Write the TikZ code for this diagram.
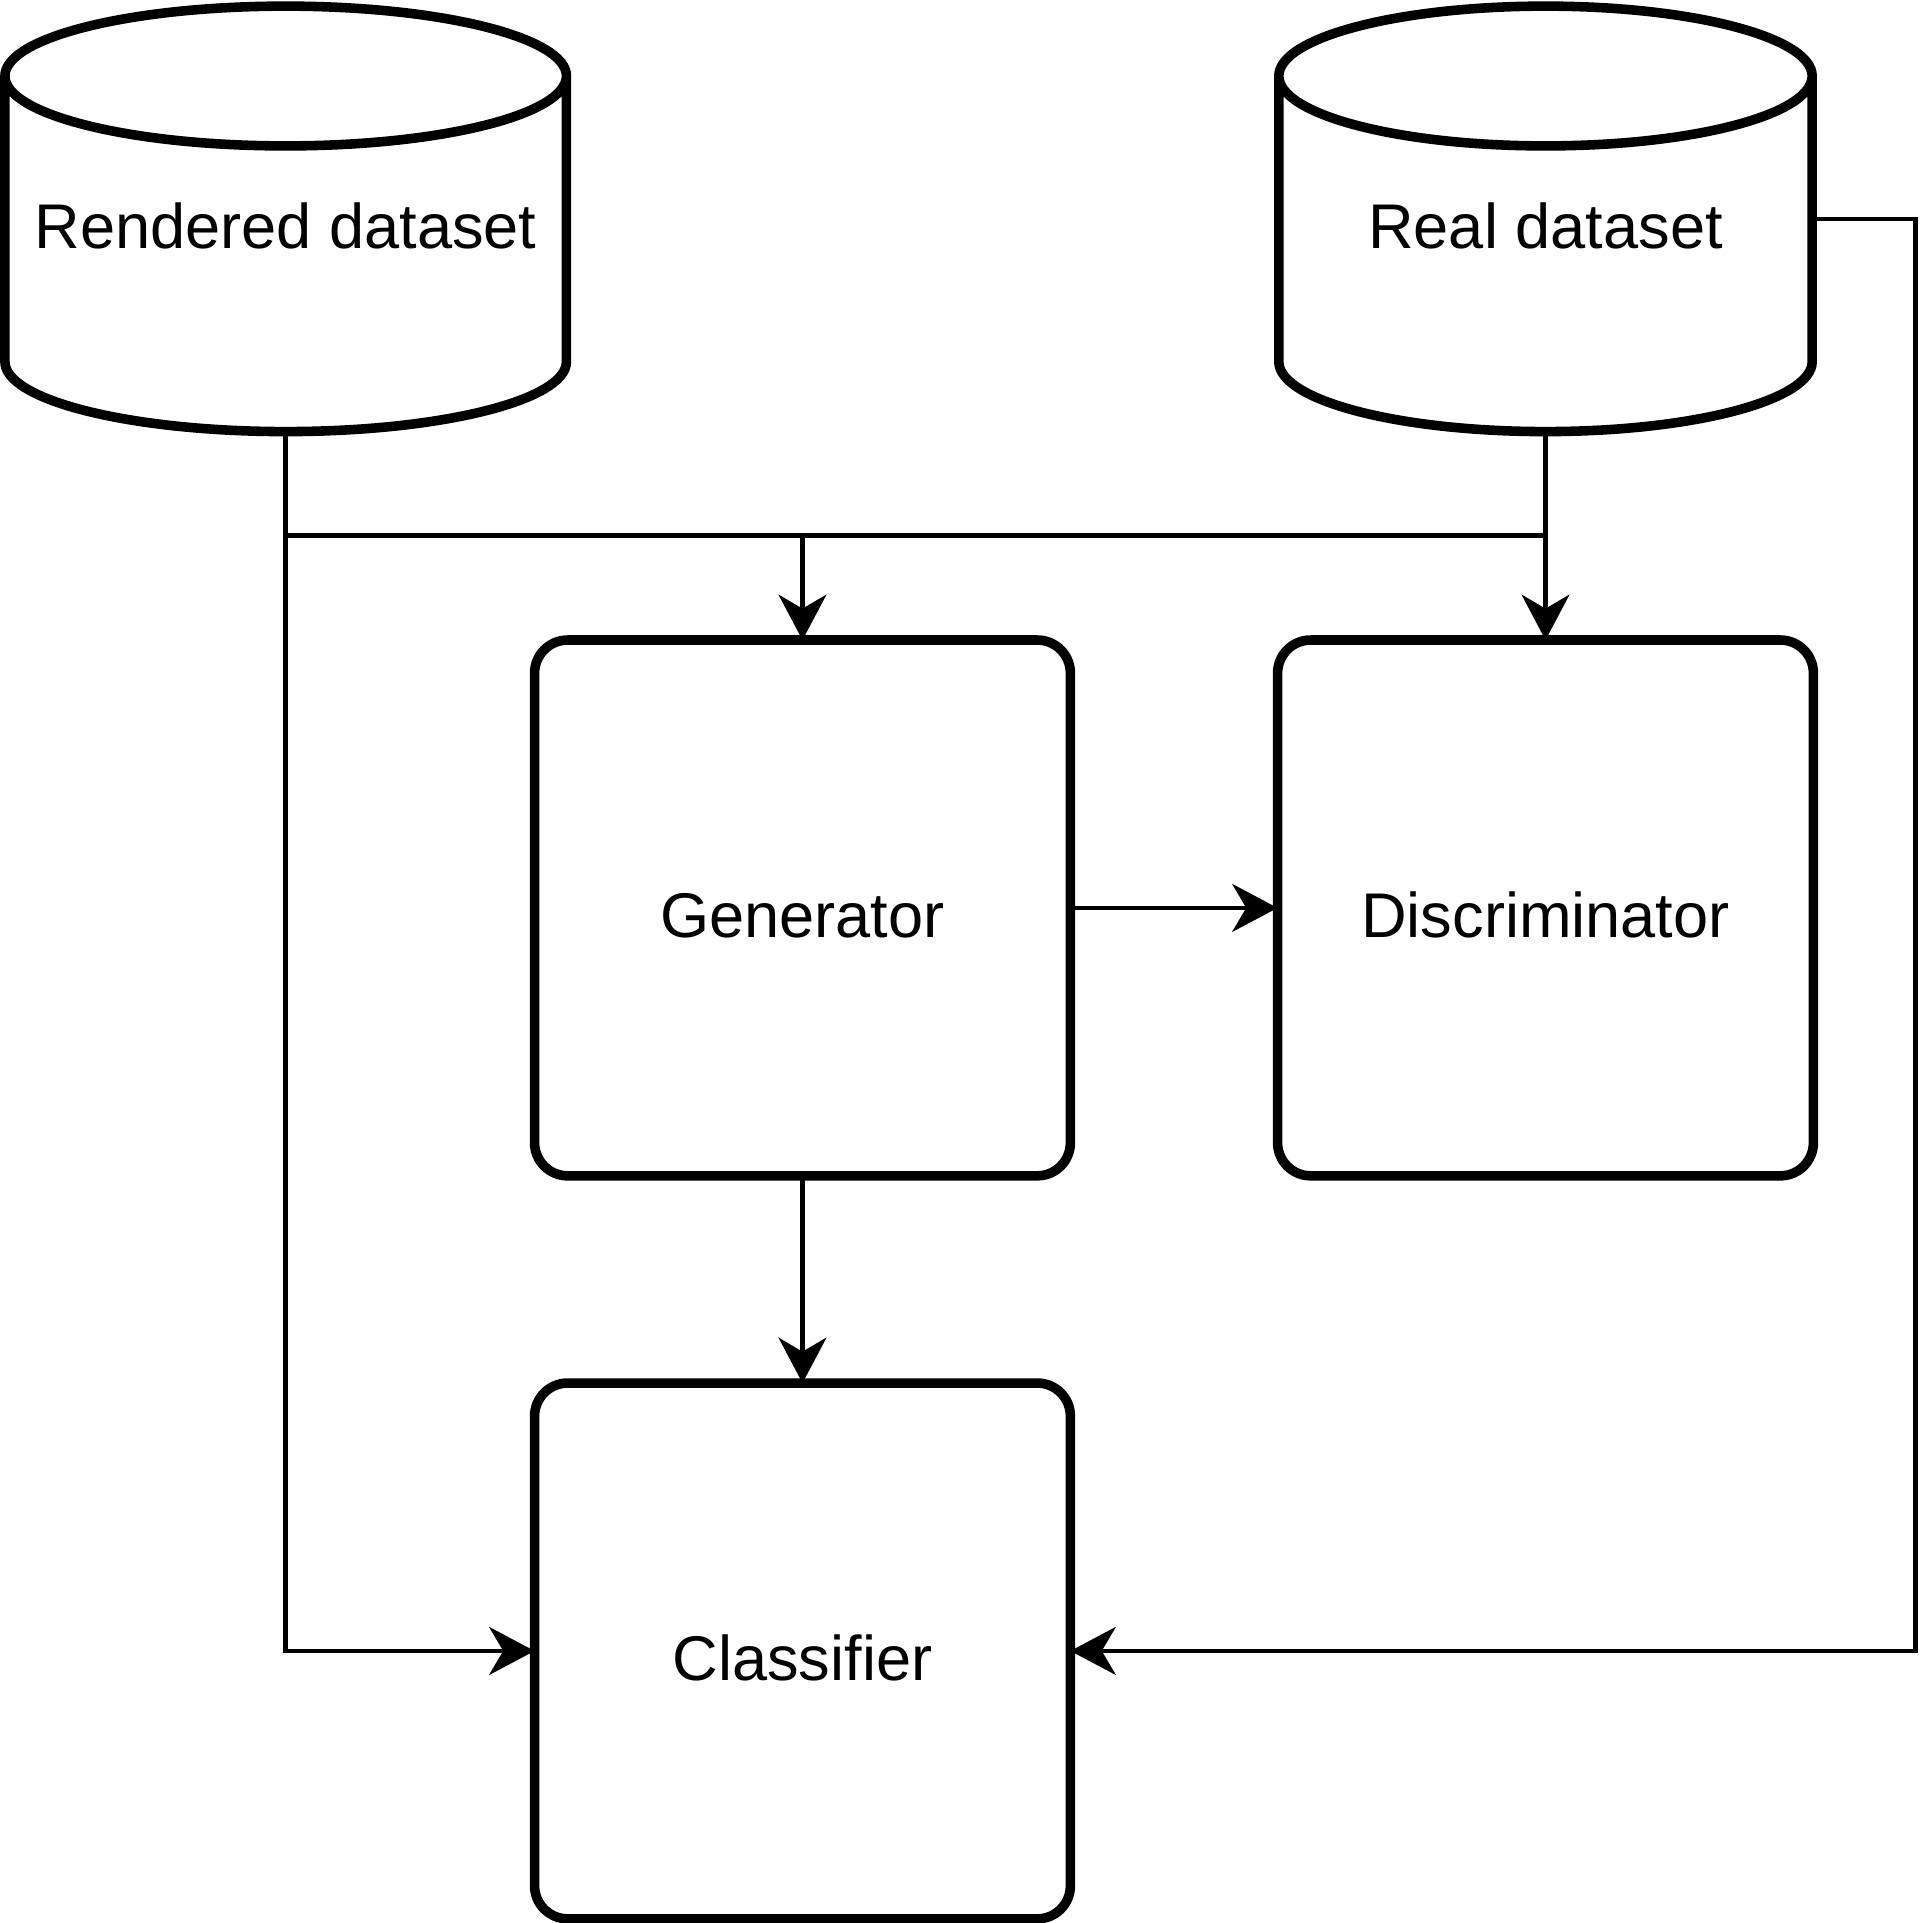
\documentclass[tikz,border=0pt]{standalone}
\usepackage{fontspec}
\setmainfont{Liberation Sans}
\usepackage{tikz}
\usetikzlibrary{arrows.meta}
\tikzstyle{block}=[rectangle, rounded corners=13.5pt, draw=black, line width=3.9pt, minimum width=218.5pt, minimum height=218.5pt, inner sep=0pt, outer sep=0pt, text height=24pt, text depth=0pt]
\tikzstyle{db}=[rectangle, minimum height=173.5pt, inner sep=0pt, outer sep=0pt, text height=24pt, text depth=0pt]
\tikzstyle{dbline}=[draw=black, line width=3.9pt, line join=round]
\tikzstyle{wire}=[draw=black, line width=1.9pt]
\tikzstyle{link}=[wire, -{Stealth[length=18.5pt, width=19.5pt, inset=5.7pt]}]

\begin{document}
\begin{tikzpicture}[x=0.5pt, y=-0.5pt, font=\fontsize{25.75}{30}\selectfont]
  \useasboundingbox (0,0) rectangle (1566,1568.4);
  \node[db, minimum width=229pt] (rend) at (233,178.5) {Rendered dataset};
  \node[db, minimum width=217.5pt] (real) at (1260.5,178.5) {Real dataset};
  \foreach \n/\r in {rend/114.5pt, real/108.75pt}
    \draw[dbline] ([yshift=-28.5pt]\n.north west) -- ([yshift=28.5pt]\n.south west)
      arc[start angle=180, end angle=360, x radius=\r, y radius=28.5pt]
      -- ([yshift=-28.5pt]\n.north east)
      arc[start angle=0, end angle=180, x radius=\r, y radius=28.5pt]
      arc[start angle=180, end angle=360, x radius=\r, y radius=28.5pt];
  \node[block] (gen) at (654.5,740.5) {Generator};
  \node[block] (disc) at (1260.5,740.5) {Discriminator};
  \node[block] (clf) at (654.5,1346.5) {Classifier};
  \coordinate (split) at (654.5,437);
  \draw[wire] (rend.south |- split) -- (real.south |- split);
  \draw[link] (split) -- (gen.north);
  \draw[link] (real.south) -- (disc.north);
  \draw[link] (rend.south) |- (clf.west);
  \draw[link] (real.east) -- ++(42pt,0) |- (clf.east);
  \draw[link] (gen.east) -- (disc.west);
  \draw[link] (gen.south) -- (clf.north);
\end{tikzpicture}
\end{document}
